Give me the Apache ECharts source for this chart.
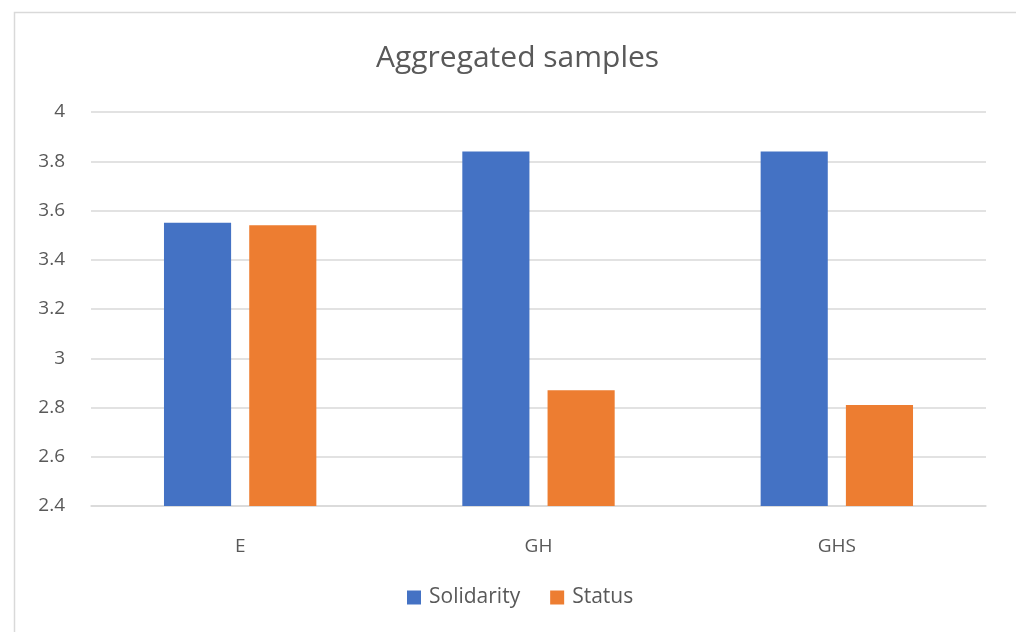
<!DOCTYPE html>
<html>
<head>
<meta charset="utf-8">
<script src="https://cdn.jsdelivr.net/npm/echarts@6/dist/echarts.min.js"></script>
<style>
  html, body { margin: 0; padding: 0; background: #fff; }
  #chart { width: 1016px; height: 632px; }
</style>
</head>
<body>
<div id="chart"></div>
<script>
const categories = ['E', 'GH', 'GHS'];
const solidarity = [3.55, 3.84, 3.84];
const status = [3.54, 2.87, 2.81];

const font = 'Open Sans';
const textColor = '#595959';

const myChart = echarts.init(document.getElementById('chart'));

const option = {
    animation: false,
    textStyle: { fontFamily: font },
    title: {
        text: 'Aggregated samples',
        left: 371,
        top: 38,
        textStyle: { fontSize: 30, fontWeight: 'normal', color: textColor, fontFamily: font }
    },
    graphic: [
        {
            type: 'rect',
            shape: { x: 14.5, y: 12.5, width: 1100, height: 700 },
            style: { fill: 'none', stroke: '#d9d9d9', lineWidth: 1.5 },
            silent: true
        }
    ],
    legend: {
        bottom: 19,
        left: 402,
        itemWidth: 14,
        itemHeight: 14,
        itemGap: 30,
        icon: 'rect',
        textStyle: { fontSize: 21, color: textColor, fontFamily: font, padding: [0, 0, 0, 3] }
    },
    grid: {
        left: 91,
        right: 30,
        top: 112,
        bottom: 126
    },
    xAxis: {
        type: 'category',
        data: categories,
        axisLine: { lineStyle: { color: '#d9d9d9', width: 1.5 } },
        axisTick: { show: false },
        axisLabel: { fontSize: 19, color: textColor, margin: 31, fontFamily: font }
    },
    yAxis: {
        type: 'value',
        min: 2.4,
        max: 4,
        interval: 0.2,
        axisLine: { show: false },
        axisTick: { show: false },
        splitLine: { lineStyle: { color: '#d9d9d9', width: 1.5 } },
        axisLabel: {
            fontSize: 19,
            color: textColor,
            margin: 26,
            fontFamily: font,
            formatter: function (v) { return String(Math.round(v * 10) / 10); }
        }
    },
    series: [
        {
            name: 'Solidarity',
            type: 'bar',
            data: solidarity,
            barWidth: '22.5%',
            barGap: '27%',
            itemStyle: { color: '#4472c4' }
        },
        {
            name: 'Status',
            type: 'bar',
            data: status,
            barWidth: '22.5%',
            itemStyle: { color: '#ed7d31' }
        }
    ]
};

myChart.setOption(option);
</script>
</body>
</html>
